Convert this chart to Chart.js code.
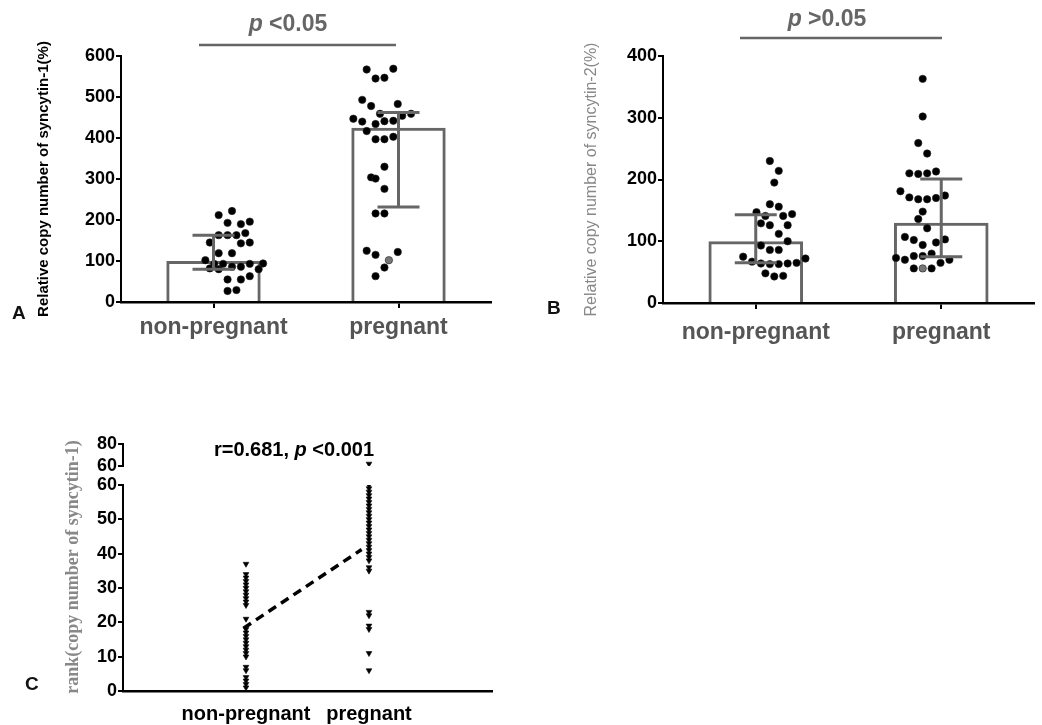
<!DOCTYPE html>
<html>
<head>
<meta charset="utf-8">
<script src="https://cdn.jsdelivr.net/npm/chart.js@4.4.1/dist/chart.umd.min.js"></script>
<style>
  body { margin: 0; background: #fff; width: 1042px; height: 725px; position: relative; overflow: hidden; font-family: "Liberation Sans", Arial, sans-serif; }
  canvas { position: absolute; }
  .panel { position: absolute; font-weight: bold; font-size: 19px; line-height: 1; color: #111; }
</style>
</head>
<body>
<canvas id="chartA" width="500" height="345" style="left:0;top:0"></canvas>
<canvas id="chartB" width="522" height="350" style="left:520px;top:0"></canvas>
<canvas id="chartC" width="500" height="295" style="left:0;top:430px"></canvas>
<canvas id="chartCTop" width="500" height="50" style="left:0;top:430px"></canvas>
<div class="panel" style="left:12px;top:303px">A</div>
<div class="panel" style="left:547px;top:298px">B</div>
<div class="panel" style="left:25px;top:674px">C</div>

<script>
'use strict';

const FONT = '"Liberation Sans", Arial, sans-serif';
const GREY = '#666';

let groups = ['non-pregnant', 'pregnant'];

// panel A: syncytin-1
let yTicksA = [0, 100, 200, 300, 400, 500, 600];
let meanA = [100, 425];
let lowA = [80, 232];
let highA = [163, 462];
let nonPregA = [222, 212, 193, 190, 196, 163, 163, 163, 168, 145, 143, 145, 119, 119, 102, 82, 93, 80, 93, 86, 86, 93, 80, 94, 55, 55, 63, 27, 29];
let nonPregAJit = [0, -0.09, -0.03, 0.06, 0.12, -0.09, -0.03, 0.03, 0.09, -0.15, 0.06, 0.12, -0.09, 0, -0.18, -0.15, -0.12, -0.09, -0.06, 0, 0.06, 0.12, 0.18, 0.21, -0.03, 0.06, 0.12, -0.03, 0.03];
let pregA = [567, 569, 545, 547, 493, 478, 483, 447, 440, 434, 441, 442, 454, 459, 459, 417, 397, 397, 403, 330, 304, 301, 276, 216, 216, 125, 115, 102, 122, 84, 63];
let pregAJit = [-0.09, 0.09, -0.03, 0.03, -0.12, -0.06, 0.12, -0.18, -0.12, -0.03, 0.03, 0.09, 0.15, 0.21, 0, -0.09, -0.03, 0.03, 0.09, 0.03, -0.06, -0.03, 0.03, -0.03, 0.03, -0.09, -0.03, 0.06, 0.12, 0.03, -0.03];
let greyDotA = 27;

// panel B: syncytin-2
let yTicksB = [0, 100, 200, 300, 400];
let meanB = [100, 130];
let lowB = [65, 75];
let highB = [143, 201];
let nonPregB = [230, 214, 195, 160, 156, 147, 141, 141, 144, 129, 126, 126, 112, 100, 93, 86, 86, 75, 67, 64, 63, 63, 64, 65, 72, 48, 43, 44];
let nonPregBJit = [-0.03, 0.03, 0, -0.03, 0.03, -0.12, -0.06, 0.06, 0.12, -0.09, -0.03, 0.09, 0.03, 0.09, -0.09, -0.03, 0.03, -0.21, -0.15, -0.09, -0.03, 0.03, 0.09, 0.15, 0.21, -0.06, 0, 0.06];
let pregB = [363, 302, 259, 242, 210, 209, 210, 213, 181, 171, 168, 168, 170, 174, 148, 136, 121, 107, 102, 94, 98, 103, 73, 70, 76, 76, 80, 65, 70, 56, 56, 56];
let pregBJit = [0, 0, -0.03, 0.03, -0.09, -0.03, 0.03, 0.09, -0.15, -0.09, -0.03, 0.03, 0.09, 0.15, 0, -0.03, 0.03, -0.12, -0.06, 0, 0.09, 0.15, -0.18, -0.12, -0.06, 0, 0.06, 0.12, 0.18, -0.06, 0, 0.06];
let greyDotB = 30;

// panel C: ranks
let yTicksC = [0, 10, 20, 30, 40, 50, 60];
let yTicksCTop = [60, 80];
let xTicksC = [1, 2];
let rankNonPreg = [1, 2, 3, 4, 6, 7, 10, 11, 12, 13, 14, 15, 16, 17, 18, 21, 25, 26, 27, 28, 29, 30, 31, 32, 33, 34, 37];
let rankPreg = [6, 11, 18, 19, 22, 23, 35, 36, 38, 39, 40, 41, 42, 43, 44, 45, 46, 47, 48, 49, 50, 51, 52, 53, 54, 55, 56, 57, 58, 59, 60];
let rankPregTop = [62];
let fitX = [0.98, 1.94];
let fitY = [18.3, 41.2];


function makeDots(values, jitter, group) {
  return values.map((v, i) => ({ x: group + jitter[i], y: v }));
}

function dotColors(n, grey) {
  let arr = [];
  for (let i = 0; i < n; i++) {
    arr.push(i === grey ? '#777' : '#000');
  }
  return arr;
}

// mean +/- bars drawn over the dots
function errorBars(lows, highs) {
  return {
    id: 'errorBars',
    afterDatasetsDraw(chart) {
      let ctx = chart.ctx;
      let x = chart.scales.x;
      let y = chart.scales.y;
      ctx.save();
      ctx.strokeStyle = GREY;
      ctx.lineWidth = 3;
      for (let i = 0; i < lows.length; i++) {
        let cx = x.getPixelForValue(i);
        let y0 = y.getPixelForValue(lows[i]);
        let y1 = y.getPixelForValue(highs[i]);
        ctx.beginPath();
        ctx.moveTo(cx, y0); ctx.lineTo(cx, y1);
        ctx.moveTo(cx - 21, y0); ctx.lineTo(cx + 21, y0);
        ctx.moveTo(cx - 21, y1); ctx.lineTo(cx + 21, y1);
        ctx.stroke();
      }
      ctx.restore();
    }
  };
}

// text with an italic "p", optional bracket line
function note(cfg) {
  return {
    id: 'note',
    afterDraw(chart) {
      let ctx = chart.ctx;
      ctx.save();
      ctx.strokeStyle = cfg.color;
      ctx.fillStyle = cfg.color;
      if (cfg.line) {
        ctx.lineWidth = 2.5;
        ctx.beginPath();
        ctx.moveTo(cfg.line[0], cfg.line[2]);
        ctx.lineTo(cfg.line[1], cfg.line[2]);
        ctx.stroke();
      }
      let total = 0;
      cfg.parts.forEach(p => {
        ctx.font = (p.italic ? 'italic ' : '') + 'bold ' + cfg.size + 'px ' + FONT;
        total += ctx.measureText(p.t).width;
      });
      let tx = cfg.x - total / 2;
      ctx.textBaseline = 'middle';
      ctx.textAlign = 'left';
      cfg.parts.forEach(p => {
        ctx.font = (p.italic ? 'italic ' : '') + 'bold ' + cfg.size + 'px ' + FONT;
        ctx.fillText(p.t, tx, cfg.y);
        tx += ctx.measureText(p.t).width;
      });
      ctx.restore();
    }
  };
}

function yTitle(text, x, y) {
  return {
    id: 'yTitle',
    afterDraw(chart) {
      let ctx = chart.ctx;
      ctx.save();
      ctx.translate(x, y);
      ctx.rotate(-Math.PI / 2);
      ctx.font = 'bold 18px "Liberation Serif", "Times New Roman", serif';
      ctx.fillStyle = '#888';
      ctx.textAlign = 'center';
      ctx.textBaseline = 'middle';
      ctx.fillText(text, 0, 0);
      ctx.restore();
    }
  };
}

function barPanel(canvasId, o) {
  let ctx = document.getElementById(canvasId).getContext('2d');
  let allDots = makeDots(o.nonPreg, o.nonPregJit, 0).concat(makeDots(o.preg, o.pregJit, 1));
  let colors = dotColors(o.nonPreg.length, -1).concat(dotColors(o.preg.length, o.grey));
  return new Chart(ctx, {
    type: 'bar',
    data: {
      labels: groups,
      datasets: [{
        type: 'scatter',
        data: allDots,
        xAxisID: 'x2',
        yAxisID: 'y',
        pointRadius: 3.7,
        pointBackgroundColor: colors,
        pointBorderColor: '#222',
        pointBorderWidth: 0.6,
        order: 1
      }, {
        type: 'bar',
        data: o.mean,
        grouped: false,
        backgroundColor: 'rgba(255,255,255,0)',
        borderColor: GREY,
        borderWidth: 3,
        barPercentage: 0.51,
        categoryPercentage: 1,
        order: 2
      }]
    },
    options: {
      responsive: false,
      animation: false,
      devicePixelRatio: 1,
      layout: { padding: o.padding },
      plugins: { legend: { display: false }, tooltip: { enabled: false } },
      scales: {
        x: {
          type: 'category',
          offset: true,
          grid: { offset: false, drawOnChartArea: false, tickLength: 6, lineWidth: 2, color: '#000' },
          border: { color: '#000', width: 2.5 },
          ticks: { color: '#555', font: { family: FONT, size: 23, weight: 'bold' }, padding: o.xPad, maxRotation: 0, autoSkip: false },
          afterFit: s => { s.height = o.xHeight; }
        },
        x2: { type: 'linear', display: false, min: -0.5, max: 1.5 },
        y: {
          min: o.yTicks[0],
          max: o.yTicks[o.yTicks.length - 1],
          ticks: { stepSize: o.yTicks[1] - o.yTicks[0], color: '#000', font: { family: FONT, size: 18, weight: 'bold' }, padding: 1 },
          grid: { drawOnChartArea: false, tickLength: 5, lineWidth: 2, color: '#000' },
          border: { color: '#000', width: 2 },
          title: { display: true, text: o.title, color: o.titleColor, font: { family: FONT, size: o.titleSize, weight: o.titleWeight }, padding: { top: 5, bottom: 0 } },
          afterFit: s => { s.width = o.yWidth; }
        }
      }
    },
    plugins: [errorBars(o.low, o.high), note(o.note)]
  });
}

barPanel('chartA', {
  nonPreg: nonPregA, nonPregJit: nonPregAJit, preg: pregA, pregJit: pregAJit, grey: greyDotA,
  mean: meanA, low: lowA, high: highA, yTicks: yTicksA,
  padding: { left: 30, top: 56, right: 9, bottom: 0 }, yWidth: 91, xHeight: 43, xPad: 6,
  title: 'Relative copy number of syncytin-1(%)', titleColor: '#000', titleSize: 15, titleWeight: 'bold',
  note: { color: GREY, size: 23, x: 288, y: 25, line: [199, 396, 45], parts: [{ t: 'p', italic: true }, { t: ' <0.05' }] }
});

barPanel('chartB', {
  nonPreg: nonPregB, nonPregJit: nonPregBJit, preg: pregB, pregJit: pregBJit, grey: greyDotB,
  mean: meanB, low: lowB, high: highB, yTicks: yTicksB,
  padding: { left: 57, top: 56, right: 8, bottom: 0 }, yWidth: 86, xHeight: 47, xPad: 10,
  title: 'Relative copy number of syncytin-2(%)', titleColor: '#888', titleSize: 16, titleWeight: 'normal',
  note: { color: GREY, size: 23, x: 307, y: 20, line: [220, 422, 38], parts: [{ t: 'p', italic: true }, { t: ' >0.05' }] }
});


// panel C, lower part of the broken axis
let triangle = {
  pointStyle: 'triangle',
  rotation: 180,
  pointRadius: 3.3,
  pointBackgroundColor: '#000',
  pointBorderColor: '#000',
  pointBorderWidth: 0.6
};

let ctxC = document.getElementById('chartC').getContext('2d');
new Chart(ctxC, {
  type: 'scatter',
  data: {
    datasets: [
      Object.assign({ data: rankNonPreg.map(v => ({ x: 1, y: v })) }, triangle),
      Object.assign({ data: rankPreg.map(v => ({ x: 2, y: v })) }, triangle),
      {
        data: fitX.map((v, i) => ({ x: v, y: fitY[i] })),
        showLine: true,
        borderColor: '#000',
        borderWidth: 3.5,
        borderDash: [9, 6],
        pointRadius: 0
      }
    ]
  },
  options: {
    responsive: false,
    animation: false,
    devicePixelRatio: 1,
    layout: { padding: { left: 40, top: 55, right: 8, bottom: 0 } },
    plugins: { legend: { display: false }, tooltip: { enabled: false } },
    scales: {
      x: {
        type: 'linear', min: 0, max: 3,
        afterBuildTicks: s => { s.ticks = xTicksC.map(v => ({ value: v })); },
        ticks: { callback: (v, i) => groups[i], color: '#000', font: { family: FONT, size: 20, weight: 'bold' }, padding: 11, maxRotation: 0, autoSkip: false },
        grid: { drawOnChartArea: false, drawTicks: false },
        border: { color: '#000', width: 2.5 },
        afterFit: s => { s.height = 34; }
      },
      y: {
        min: yTicksC[0],
        max: yTicksC[yTicksC.length - 1],
        ticks: { stepSize: yTicksC[1] - yTicksC[0], color: '#000', font: { family: FONT, size: 18, weight: 'bold' }, padding: 1 },
        grid: { drawOnChartArea: false, tickLength: 5, lineWidth: 2, color: '#000' },
        border: { color: '#000', width: 2 },
        afterFit: s => { s.width = 83; }
      }
    }
  },
  plugins: [yTitle('rank(copy number of syncytin-1)', 73, 137)]
});

// panel C, upper part of the broken axis
let ctxCTop = document.getElementById('chartCTop').getContext('2d');
new Chart(ctxCTop, {
  type: 'scatter',
  data: {
    datasets: [Object.assign({ data: rankPregTop.map(v => ({ x: 2, y: v })) }, triangle)]
  },
  options: {
    responsive: false,
    animation: false,
    devicePixelRatio: 1,
    layout: { padding: { left: 40, top: 14, right: 8, bottom: 14 } },
    plugins: { legend: { display: false }, tooltip: { enabled: false } },
    scales: {
      x: { type: 'linear', display: false, min: 0, max: 3 },
      y: {
        min: yTicksCTop[0],
        max: yTicksCTop[1],
        afterBuildTicks: s => { s.ticks = yTicksCTop.map(v => ({ value: v })); },
        ticks: { color: '#000', font: { family: FONT, size: 18, weight: 'bold' }, padding: 1, autoSkip: false },
        grid: { drawOnChartArea: false, tickLength: 5, lineWidth: 2, color: '#000' },
        border: { color: '#000', width: 2 },
        afterFit: s => { s.width = 83; }
      }
    }
  },
  plugins: [note({ color: '#000', size: 20, x: 294, y: 20, parts: [{ t: 'r=0.681, ' }, { t: 'p', italic: true }, { t: ' <0.001' }] })]
});
</script>
</body>
</html>
